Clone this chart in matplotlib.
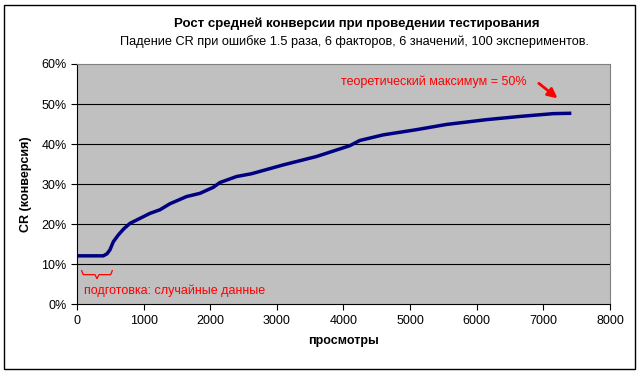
import numpy as np
import matplotlib.pyplot as plt
from matplotlib.patches import Rectangle
from matplotlib.ticker import FuncFormatter

plt.rcParams['font.family'] = ['Liberation Sans', 'DejaVu Sans']

# data (views, conversion %)
views = [0, 395, 450, 495, 545, 620, 700, 795, 1095, 1245, 1395, 1645, 1845,
         2045, 2145, 2395, 2620, 3095, 3595, 4095, 4245, 4595, 5095, 5545,
         6145, 6645, 7145, 7420]
cr = [12.1, 12.1, 12.6, 13.6, 15.6, 17.3, 18.8, 20.2, 22.7, 23.6, 25.1, 26.9,
      27.7, 29.2, 30.4, 31.9, 32.6, 34.8, 36.9, 39.6, 40.9, 42.3, 43.6, 44.9,
      46.1, 46.9, 47.6, 47.7]

title = 'Рост средней конверсии при проведении тестирования'
subtitle = 'Падение CR при ошибке 1.5 раза, 6 факторов, 6 значений, 100 экспериментов.'
note_max = 'теоретический максимум = 50%'
note_prep = 'подготовка: случайные данные'

fig = plt.figure(figsize=(6.41, 3.74), dpi=100)
ax = fig.add_axes([0.1201, 0.1864, 0.8315, 0.6425])
ax.set_facecolor('#c0c0c0')

ax.plot(views, cr, color='#000080', lw=2.5, solid_capstyle='butt')

ax.set_xlim(0, 8000)
ax.set_ylim(0, 60)
ax.set_xticks(range(0, 8001, 1000))
ax.set_yticks(range(0, 61, 10))
ax.yaxis.set_major_formatter(FuncFormatter(lambda v, p: f'{v:.0f}%'))
ax.tick_params(direction='out', length=4, width=0.8, labelsize=9, colors='black')
for y in range(10, 60, 10):
    ax.axhline(y, color='black', lw=0.8, zorder=1)

for s in ['top', 'right']:
    ax.spines[s].set_color('#808080')
    ax.spines[s].set_linewidth(0.8)
for s in ['left', 'bottom']:
    ax.spines[s].set_color('black')
    ax.spines[s].set_linewidth(0.8)

ax.set_xlabel('просмотры', fontsize=9, fontweight='bold', labelpad=6)
ax.set_ylabel('CR (конверсия)', fontsize=9, fontweight='bold', labelpad=7)

# annotations
ax.text(6750, 55.6, note_max, color='red', fontsize=9, ha='right', va='center')
ax.annotate('', xy=(7245, 51.0), xytext=(6900, 55.6),
            arrowprops=dict(arrowstyle='-|>', color='red', lw=2,
                            mutation_scale=14))
# curly brace under the flat start
bx = [70, 95, 270, 300, 330, 505, 530]
by = [8.4, 7.4, 7.4, 6.4, 7.4, 7.4, 8.4]
ax.plot(bx, by, color='red', lw=0.9, clip_on=False)
ax.text(100, 3.3, note_prep, color='red', fontsize=9, ha='left', va='center')

fig.text(357 / 641, 1 - 24 / 374, title, fontsize=9.5, fontweight='bold',
         ha='center', va='center')
fig.text(355 / 641, 1 - 42 / 374, subtitle, fontsize=9.2,
         ha='center', va='center')

fig.patches.append(Rectangle((4 / 641, 1 - 368.5 / 374), 631 / 641, 363.5 / 374,
                             transform=fig.transFigure, fill=False,
                             edgecolor='black', lw=1))

fig.savefig('out.png', dpi=100)
